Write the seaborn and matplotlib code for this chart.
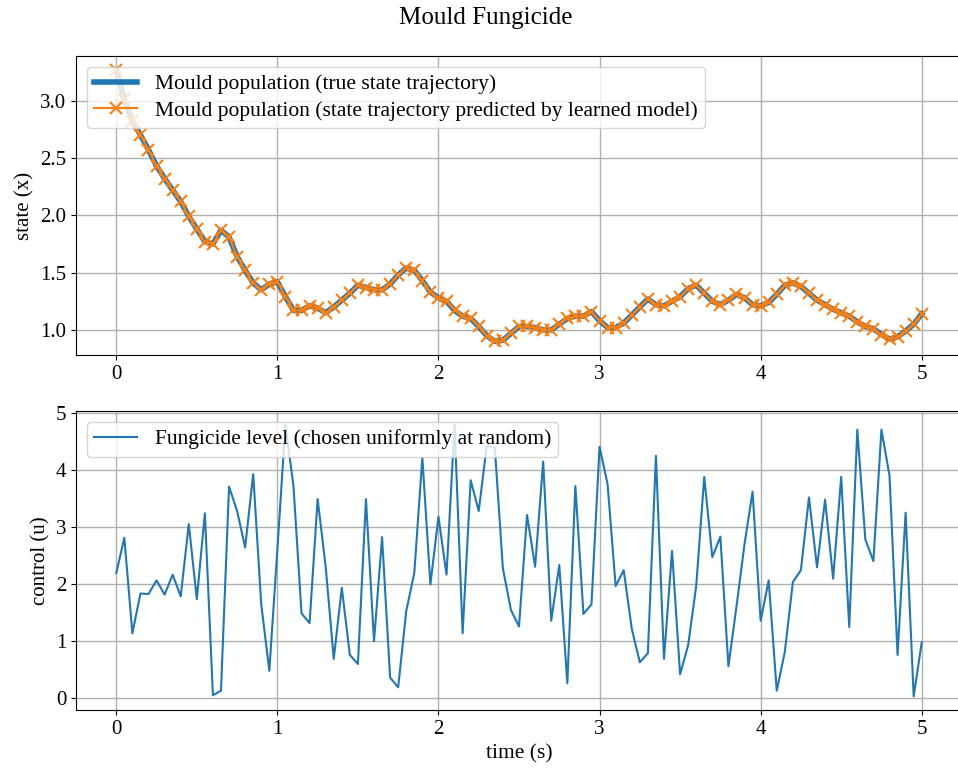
import numpy as np
import pandas as pd
import matplotlib
matplotlib.use("Agg")
import matplotlib.pyplot as plt
import seaborn as sns

# time grid: 0 .. 5 s, 0.05 s step
time_s = [round(0.05 * i, 2) for i in range(101)]

state_true = [
    3.27, 3.01, 2.82, 2.70, 2.57, 2.43, 2.32, 2.22, 2.12, 1.99,
    1.88, 1.77, 1.75, 1.87, 1.81, 1.64, 1.52, 1.41, 1.35, 1.40,
    1.42, 1.29, 1.17, 1.17, 1.21, 1.19, 1.15, 1.20, 1.26, 1.32,
    1.39, 1.37, 1.35, 1.35, 1.40, 1.48, 1.54, 1.52, 1.43, 1.33,
    1.28, 1.25, 1.17, 1.12, 1.10, 1.03, 0.95, 0.90, 0.91, 0.97,
    1.03, 1.03, 1.02, 1.00, 1.00, 1.05, 1.10, 1.12, 1.12, 1.16,
    1.08, 1.02, 1.02, 1.06, 1.13, 1.20, 1.27, 1.22, 1.21, 1.25,
    1.29, 1.36, 1.39, 1.32, 1.25, 1.22, 1.26, 1.31, 1.28, 1.22,
    1.21, 1.24, 1.31, 1.39, 1.41, 1.38, 1.32, 1.26, 1.22, 1.18,
    1.15, 1.12, 1.07, 1.03, 1.01, 0.96, 0.92, 0.94, 0.99, 1.05,
    1.14,
]

state_pred = [
    3.27, 3.01, 2.82, 2.70, 2.57, 2.43, 2.32, 2.22, 2.12, 1.99,
    1.88, 1.77, 1.75, 1.87, 1.81, 1.64, 1.52, 1.41, 1.35, 1.40,
    1.42, 1.29, 1.17, 1.17, 1.21, 1.19, 1.15, 1.20, 1.26, 1.32,
    1.39, 1.37, 1.35, 1.35, 1.40, 1.48, 1.54, 1.52, 1.43, 1.33,
    1.28, 1.25, 1.17, 1.12, 1.10, 1.03, 0.95, 0.90, 0.91, 0.97,
    1.03, 1.03, 1.02, 1.00, 1.00, 1.05, 1.10, 1.12, 1.12, 1.16,
    1.08, 1.02, 1.02, 1.06, 1.13, 1.20, 1.27, 1.22, 1.21, 1.25,
    1.29, 1.36, 1.39, 1.32, 1.25, 1.22, 1.26, 1.31, 1.28, 1.22,
    1.21, 1.24, 1.31, 1.39, 1.41, 1.38, 1.32, 1.26, 1.22, 1.18,
    1.15, 1.12, 1.07, 1.03, 1.01, 0.96, 0.92, 0.94, 0.99, 1.05,
    1.14,
]

control_u = [
    2.19, 2.81, 1.13, 1.83, 1.82, 2.06, 1.81, 2.16, 1.78, 3.05,
    1.73, 3.24, 0.04, 0.12, 3.71, 3.28, 2.64, 3.93, 1.64, 0.47,
    2.60, 4.80, 3.72, 1.48, 1.31, 3.49, 2.30, 0.68, 1.93, 0.75,
    0.59, 3.49, 0.99, 2.82, 0.35, 0.18, 1.52, 2.19, 4.22, 1.99,
    3.18, 2.16, 4.80, 1.13, 3.82, 3.28, 4.43, 4.39, 2.27, 1.54,
    1.25, 3.21, 2.30, 4.15, 1.35, 2.33, 0.25, 3.72, 1.47, 1.64,
    4.41, 3.75, 1.96, 2.24, 1.21, 0.62, 0.78, 4.25, 0.68, 2.58,
    0.41, 0.92, 1.96, 3.88, 2.47, 2.83, 0.55, 1.60, 2.70, 3.62,
    1.35, 2.06, 0.12, 0.80, 2.03, 2.24, 3.52, 2.29, 3.48, 2.09,
    3.88, 1.24, 4.71, 2.78, 2.40, 4.71, 3.90, 0.75, 3.25, 0.02,
    0.97,
]

label_true = "Mould population (true state trajectory)"
label_pred = "Mould population (state trajectory predicted by learned model)"
label_u = "Fungicide level (chosen uniformly at random)"

df = pd.DataFrame({"t": time_s, "x_true": state_true, "x_pred": state_pred, "u": control_u})

plt.rcParams["font.family"] = ["Liberation Serif", "DejaVu Serif"]
plt.rcParams["font.size"] = 15

W, H = 958, 772
fig = plt.figure(figsize=(W / 100, H / 100), dpi=100)
left, right = 76, 962
ax1 = fig.add_axes([left / W, 1 - 355 / H, (right - left) / W, (355 - 56) / H])
ax2 = fig.add_axes([left / W, 1 - 710 / H, (right - left) / W, (710 - 411) / H])

blue = "#1f77b4"
orange = "#ff7f0e"

sns.lineplot(data=df, x="t", y="x_true", ax=ax1, color=blue, linewidth=4, label=label_true)
sns.lineplot(data=df, x="t", y="x_pred", ax=ax1, color=orange, linewidth=1.5,
             marker="x", markersize=8, markeredgecolor=orange, markeredgewidth=1.5,
             label=label_pred)
sns.lineplot(data=df, x="t", y="u", ax=ax2, color=blue, linewidth=1.5, label=label_u)

for ax in (ax1, ax2):
    ax.grid(True, color="#b0b0b0", linewidth=1.0)
    ax.set_xticks([0, 1, 2, 3, 4, 5])
    ax.legend(loc="upper left", fontsize=15.5, labelspacing=0.3, borderpad=0.35)
    ax.tick_params(labelsize=15)

ax1.set_yticks([1.0, 1.5, 2.0, 2.5, 3.0])
ax1.set_xlabel("")
ax1.set_ylabel("state (x)", fontsize=15)
ax2.set_yticks([0, 1, 2, 3, 4, 5])
ax2.set_xlabel("time (s)", fontsize=15.5)
ax2.set_ylabel("control (u)", fontsize=15)

fig.suptitle("Mould Fungicide", x=486 / W, y=1 - 18 / H, va="center", fontsize=18)

fig.savefig("out.png", dpi=100)
